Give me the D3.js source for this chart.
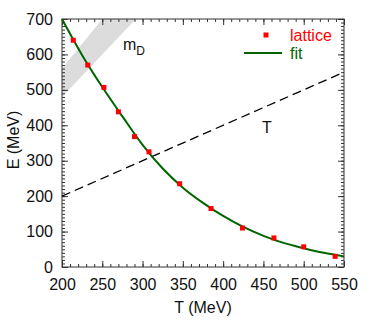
<!DOCTYPE html>
<html>
<head>
<meta charset="utf-8">
<script src="https://cdn.jsdelivr.net/npm/d3@7"></script>
<style>
  body { margin: 0; background: #fff; }
  svg { font-family: "Liberation Sans", Arial, sans-serif; }
  .axis path, .axis line { stroke: #333; }
</style>
</head>
<body>
<svg id="viz" width="374" height="320"></svg>
<script>
// lattice points
var latT = [214, 232, 252, 270, 290, 308, 346, 385, 424, 463, 500, 539];
var latE = [640, 570, 507, 438, 368, 325, 235, 165, 110, 82, 57, 30];
// fit curve
var fitT = [200, 225, 250, 275, 300, 325, 350, 375, 400, 425, 450, 475, 500, 525, 550];
var fitE = [700, 598, 508, 425, 345, 278, 224, 181, 144, 113, 88, 68, 53, 40, 30];
// E = T line
var lineT = [200, 550];
var lineE = [200, 550];
// m_D band
var bandT = [200, 300];
var bandLow = [480, 720];
var bandHigh = [560, 840];

var xTicks = [200, 250, 300, 350, 400, 450, 500, 550];
var yTicks = [0, 100, 200, 300, 400, 500, 600, 700];

var margins = {top: 19, right: 30, bottom: 53, left: 62};

var svg = d3.select("#viz"),
    width = +svg.attr("width") - margins.left - margins.right,
    height = +svg.attr("height") - margins.top - margins.bottom,
    g = svg.append("g").attr("transform", "translate(" + margins.left + "," + margins.top + ")");

var x = d3.scaleLinear().domain([200, 550]).range([0, width]);
var y = d3.scaleLinear().domain([0, 700]).range([height, 0]);

g.append("clipPath").attr("id", "clip")
  .append("rect").attr("width", width).attr("height", height);

// band
var area = d3.area()
  .x(function(d) { return x(d.t); })
  .y0(function(d) { return y(d.lo); })
  .y1(function(d) { return y(d.hi); });
var bandData = bandT.map(function(t, i) { return {t: t, lo: bandLow[i], hi: bandHigh[i]}; });
g.append("path")
  .datum(bandData)
  .attr("clip-path", "url(#clip)")
  .attr("fill", "#dcdcdc")
  .attr("d", area);

// minor ticks (every 10)
var xMinor = d3.range(200, 551, 10);
var yMinor = d3.range(0, 701, 10);
function addAxis(axis, tr) {
  g.append("g").attr("class", "axis").attr("transform", tr).call(axis)
    .call(function(s) { s.select(".domain").remove(); });
}
addAxis(d3.axisBottom(x).tickValues(xMinor).tickSize(-3).tickFormat(""), "translate(0," + height + ")");
addAxis(d3.axisTop(x).tickValues(xMinor).tickSize(-3).tickFormat(""), "translate(0,0)");
addAxis(d3.axisLeft(y).tickValues(yMinor).tickSize(-3).tickFormat(""), "translate(0,0)");
addAxis(d3.axisRight(y).tickValues(yMinor).tickSize(-3).tickFormat(""), "translate(" + width + ",0)");

// major ticks with labels
var xAxis = g.append("g").attr("class", "axis").attr("transform", "translate(0," + height + ")")
  .call(d3.axisBottom(x).tickValues(xTicks).tickSize(-6).tickPadding(12).tickFormat(d3.format("d")));
xAxis.select(".domain").remove();
xAxis.selectAll("text").attr("font-size", 16).attr("fill", "#111");
var yAxis = g.append("g").attr("class", "axis")
  .call(d3.axisLeft(y).tickValues(yTicks).tickSize(-6).tickPadding(9).tickFormat(d3.format("d")));
yAxis.select(".domain").remove();
yAxis.selectAll("text").attr("font-size", 16).attr("fill", "#111");
addAxis(d3.axisTop(x).tickValues(xTicks).tickSize(-6).tickFormat(""), "translate(0,0)");
addAxis(d3.axisRight(y).tickValues(yTicks).tickSize(-6).tickFormat(""), "translate(" + width + ",0)");

// frame
g.append("rect").attr("width", width).attr("height", height)
  .attr("fill", "none").attr("stroke", "#333").attr("stroke-width", 1);

// E = T dashed
var lineData = lineT.map(function(t, i) { return {t: t, e: lineE[i]}; });
g.append("path")
  .datum(lineData)
  .attr("fill", "none").attr("stroke", "#000").attr("stroke-width", 1.3)
  .attr("stroke-dasharray", "9,5")
  .attr("d", d3.line().x(function(d) { return x(d.t); }).y(function(d) { return y(d.e); }));

// fit
var fitData = fitT.map(function(t, i) { return {t: t, e: fitE[i]}; });
g.append("path")
  .datum(fitData)
  .attr("fill", "none").attr("stroke", "#006400").attr("stroke-width", 2)
  .attr("d", d3.line().curve(d3.curveMonotoneX).x(function(d) { return x(d.t); }).y(function(d) { return y(d.e); }));

// lattice points
var latData = latT.map(function(t, i) { return {t: t, e: latE[i]}; });
g.selectAll(".pt").data(latData).enter().append("rect")
  .attr("class", "pt")
  .attr("x", function(d) { return x(d.t) - 2.5; })
  .attr("y", function(d) { return y(d.e) - 2.5; })
  .attr("width", 5).attr("height", 5)
  .attr("fill", "#ff0000");

// labels
var md = svg.append("text").attr("x", 123).attr("y", 50).attr("font-size", 16).attr("fill", "#111");
md.append("tspan").text("m");
md.append("tspan").attr("dy", 5).attr("font-size", 12).text("D");
svg.append("text").attr("x", 262).attr("y", 133).attr("font-size", 16).attr("fill", "#111").text("T");

// legend
svg.append("rect").attr("x", 263.5).attr("y", 32.5).attr("width", 5).attr("height", 5).attr("fill", "#ff0000");
svg.append("text").attr("x", 290).attr("y", 41).attr("font-size", 16).attr("fill", "#ff0000").text("lattice");
svg.append("line").attr("x1", 244).attr("x2", 282).attr("y1", 53).attr("y2", 53)
  .attr("stroke", "#006400").attr("stroke-width", 2);
svg.append("text").attr("x", 290).attr("y", 59).attr("font-size", 16).attr("fill", "#006400").text("fit");

// axis titles
svg.append("text").attr("x", 203).attr("y", 313).attr("text-anchor", "middle")
  .attr("font-size", 16).attr("fill", "#111").text("T (MeV)");
svg.append("text").attr("transform", "translate(19,140) rotate(-90)").attr("text-anchor", "middle")
  .attr("font-size", 16).attr("fill", "#111").text("E (MeV)");
</script>
</body>
</html>
